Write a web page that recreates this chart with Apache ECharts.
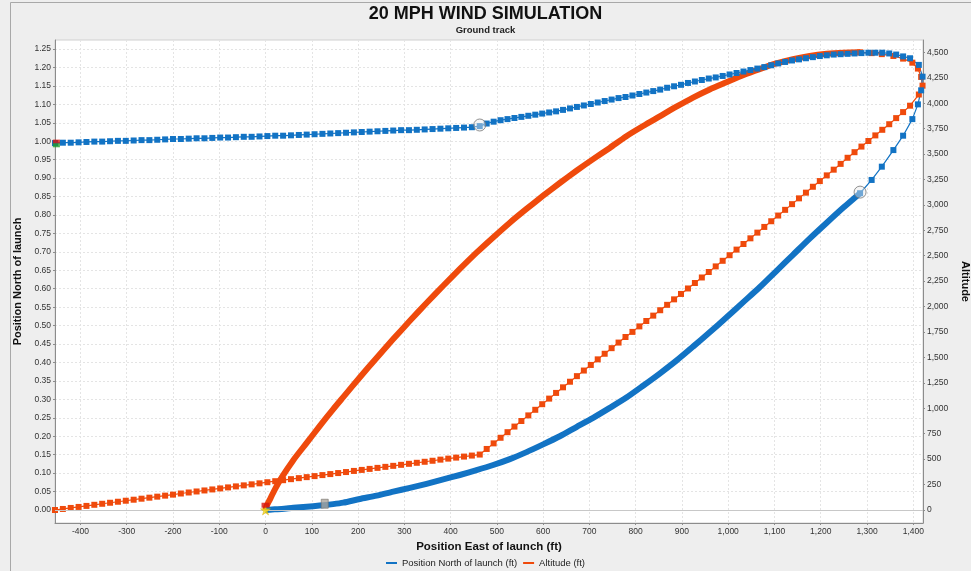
<!DOCTYPE html>
<html>
<head>
<meta charset="utf-8">
<script src="https://cdn.jsdelivr.net/npm/echarts@6/dist/echarts.min.js"></script>
<style>
  html, body { margin: 0; padding: 0; background: #eeeeee; }
  #chart { width: 971px; height: 571px; }
</style>
</head>
<body>
<div id="chart"></div>
<script>
// ascent (motor burn + coast up to apogee)
const ascentEast = [0, 2, 9, 20, 35, 60, 89, 117, 146, 168, 204, 240, 276, 312, 348, 384, 420, 456, 492, 528,
  564, 600, 636, 672, 708, 744, 780, 816, 852, 888, 924, 960, 996, 1032, 1068, 1104, 1140, 1176, 1213, 1249, 1285];
const ascentNorth = [0, 0, 0.001, 0.002, 0.003, 0.006, 0.009, 0.012, 0.016, 0.020, 0.030, 0.039, 0.050, 0.060, 0.071,
  0.083, 0.095, 0.108, 0.122, 0.138, 0.157, 0.178, 0.200, 0.225, 0.250, 0.277, 0.305, 0.337, 0.370, 0.405, 0.443,
  0.482, 0.522, 0.563, 0.604, 0.648, 0.692, 0.736, 0.779, 0.820, 0.859];
const ascentAlt = [0, 35, 100, 200, 320, 490, 660, 825, 990, 1110, 1305, 1495, 1680, 1860, 2035, 2205, 2370, 2530,
  2680, 2825, 2960, 3090, 3215, 3335, 3450, 3560, 3675, 3775, 3870, 3965, 4055, 4135, 4205, 4275, 4335, 4390, 4432,
  4464, 4485, 4496, 4500];

// apogee to main deployment
const drogueEast = [1285, 1310, 1332, 1357, 1378, 1398, 1410, 1417, 1420, 1412,
  1393, 1378, 1363, 1348, 1333, 1318, 1303, 1288, 1273, 1258, 1243, 1228, 1213, 1198, 1183, 1168, 1153, 1138,
  1123, 1108, 1093, 1078, 1063, 1048, 1033, 1018, 1003, 988, 973, 958, 943, 928, 913, 898, 883, 868, 853, 838,
  823, 808, 793, 778, 763, 748, 733, 718, 703, 688, 673, 658, 643, 628, 613, 598, 583, 568, 553, 538, 523, 508,
  493, 478, 463];
const drogueNorth = [0.859, 0.895, 0.931, 0.976, 1.015, 1.060, 1.100, 1.138, 1.175, 1.207,
  1.225, 1.230, 1.235, 1.238, 1.240, 1.240, 1.240, 1.239, 1.238, 1.237, 1.236, 1.235, 1.233, 1.231, 1.228, 1.225,
  1.222, 1.219, 1.215, 1.211, 1.206, 1.201, 1.197, 1.193, 1.189, 1.185, 1.181, 1.177, 1.173, 1.170, 1.166, 1.162,
  1.158, 1.153, 1.149, 1.145, 1.140, 1.136, 1.132, 1.128, 1.124, 1.120, 1.117, 1.113, 1.109, 1.105, 1.101, 1.097,
  1.093, 1.089, 1.085, 1.081, 1.078, 1.075, 1.072, 1.069, 1.066, 1.063, 1.060, 1.057, 1.053, 1.048, 1.041];
const drogueAlt = [4500, 4492, 4482, 4464, 4438, 4398, 4340, 4258, 4172, 4085,
  3975, 3912, 3853, 3793, 3738, 3683, 3628, 3573, 3518, 3463, 3403, 3346, 3290, 3234, 3178, 3120, 3064, 3007,
  2951, 2895, 2839, 2783, 2727, 2671, 2615, 2560, 2505, 2450, 2395, 2340, 2286, 2232, 2178, 2124, 2071, 2017,
  1964, 1911, 1858, 1805, 1751, 1701, 1646, 1591, 1536, 1481, 1426, 1371, 1316, 1261, 1206, 1151, 1095, 1040,
  985, 930, 875, 820, 765, 710, 655, 600, 545];

// under main chute to ground
const mainEast = [446, 429, 412, 395, 378, 361, 344, 327, 310, 293, 276, 259, 242, 225, 208, 191, 174, 157, 140,
  123, 106, 89, 72, 55, 38, 21, 4, -13, -30, -47, -64, -81, -98, -115, -132, -149, -166, -183, -200, -217, -234,
  -251, -268, -285, -302, -319, -336, -353, -370, -387, -404, -421, -438, -455];
const mainNorth = [1.038, 1.037, 1.036, 1.035, 1.034, 1.033, 1.032, 1.031, 1.030, 1.030, 1.029, 1.028, 1.027,
  1.026, 1.025, 1.024, 1.023, 1.022, 1.021, 1.020, 1.019, 1.018, 1.017, 1.016, 1.015, 1.015, 1.014, 1.013, 1.012,
  1.012, 1.011, 1.010, 1.010, 1.009, 1.008, 1.008, 1.007, 1.006, 1.006, 1.005, 1.004, 1.003, 1.003, 1.002, 1.001,
  1.001, 1.000, 0.999, 0.999, 0.998, 0.997, 0.996, 0.996, 0.995];
const mainAlt = [535, 525, 515, 505, 495, 484, 474, 464, 454, 444, 434, 424, 414, 404, 394, 384, 373, 363, 353,
  343, 333, 323, 313, 303, 293, 283, 273, 262, 252, 242, 232, 222, 212, 202, 192, 182, 172, 162, 151, 141, 131,
  121, 111, 101, 91, 81, 71, 61, 51, 40, 30, 20, 10, 0];

// flight events
const eventNames = ['launch', 'ignition', 'burnout', 'apogee', 'deployment', 'groundHit', 'end'];
const eventEast = [0, 0, 128, 1285, 463, -452, -452];
const eventNorth = [0, 0.013, 0.017, 0.862, 1.044, 0.999, 0.989];

// tick labels
const eastTicks = [-400, -300, -200, -100, 0, 100, 200, 300, 400, 500, 600, 700, 800, 900, 1000, 1100, 1200, 1300, 1400];
const northTicks = [0, 0.05, 0.1, 0.15, 0.2, 0.25, 0.3, 0.35, 0.4, 0.45, 0.5, 0.55, 0.6, 0.65, 0.7, 0.75, 0.8,
  0.85, 0.9, 0.95, 1, 1.05, 1.1, 1.15, 1.2, 1.25];
const altTicks = [0, 250, 500, 750, 1000, 1250, 1500, 1750, 2000, 2250, 2500, 2750, 3000, 3250, 3500, 3750, 4000,
  4250, 4500];

const BLUE = '#1273c4';
const ORANGE = '#ef4a0c';
const FONT = 'Liberation Sans';
const NORTH = 'Position North of launch (ft)';
const ALT = 'Altitude (ft)';

const zip = (xs, ys) => xs.map((x, i) => [x, ys[i]]);
const descentEast = drogueEast.concat(mainEast);

const eventStyle = {
  launch: { symbol: 'path://M50,0 L61,35 L98,35 L68,57 L79,91 L50,70 L21,91 L32,57 L2,35 L39,35 Z', symbolSize: 10,
    itemStyle: { color: '#f6d30a', borderColor: '#c9a400', borderWidth: 0.5 } },
  ignition: { symbol: 'rect', symbolSize: [8, 5], itemStyle: { color: '#d6140e' } },
  burnout: { symbol: 'rect', symbolSize: [7, 9], itemStyle: { color: '#a9a49c', borderColor: '#7a756e', borderWidth: 0.8 } },
  apogee: { symbol: 'circle', symbolSize: 12, itemStyle: { color: 'rgba(235,235,235,0.55)', borderColor: '#777', borderWidth: 1 } },
  deployment: { symbol: 'circle', symbolSize: 12, itemStyle: { color: 'rgba(235,235,235,0.55)', borderColor: '#777', borderWidth: 1 } },
  groundHit: { symbol: 'rect', symbolSize: [7, 4], itemStyle: { color: '#d6140e' } },
  end: { symbol: 'rect', symbolSize: [7, 4], itemStyle: { color: '#1f9a2a' } }
};

const tickLabel = { fontFamily: FONT, fontSize: 8.5, color: '#333' };
const axisName = { fontFamily: FONT, fontSize: 11, fontWeight: 'bold', color: '#111' };

let chart = echarts.init(document.getElementById('chart'), null, { renderer: 'canvas' });
chart.setOption({
  backgroundColor: '#eeeeee',
  animation: false,
  title: {
    text: '20 MPH WIND SIMULATION',
    subtext: 'Ground track',
    left: 'center',
    top: 1,
    padding: [4, 0, 4, 12],
    itemGap: 2,
    textStyle: { fontFamily: FONT, fontSize: 18, fontWeight: 'bold', color: '#111' },
    subtextStyle: { fontFamily: FONT, fontSize: 9.5, fontWeight: 'bold', color: '#222' }
  },
  legend: {
    data: [NORTH, ALT],
    bottom: 1,
    left: 'center',
    padding: [2, 0, 2, 18],
    icon: 'rect',
    itemWidth: 11,
    itemHeight: 2,
    itemGap: 6,
    textStyle: { fontFamily: FONT, fontSize: 9.5, color: '#222' }
  },
  graphic: [{
    type: 'rect', silent: true,
    shape: { x: 10.5, y: 2.5, width: 1000, height: 700 },
    style: { fill: 'none', stroke: '#a8a8a8', lineWidth: 1 }
  }],
  grid: {
    left: 55, right: 48, top: 40, bottom: 48,
    containLabel: false, outerBoundsMode: 'none',
    show: true, backgroundColor: '#ffffff', borderColor: '#d0d0d0', borderWidth: 1
  },
  xAxis: {
    type: 'value', min: -455, max: 1421,
    name: 'Position East of launch (ft)', nameLocation: 'middle', nameGap: 16,
    nameTextStyle: Object.assign({}, axisName, { fontSize: 11.5 }),
    axisLine: { show: true, onZero: false, lineStyle: { color: '#8c8c8c', width: 1 } },
    axisTick: { show: true, length: 2, customValues: eastTicks, lineStyle: { color: '#8c8c8c' } },
    axisLabel: Object.assign({ customValues: eastTicks, margin: 4, formatter: v => v.toLocaleString('en-US') }, tickLabel),
    splitLine: { show: true, lineStyle: { color: '#e4e4e4', type: [2, 2] } }
  },
  yAxis: [{
    type: 'value', min: -0.0352, max: 1.2745, position: 'left',
    name: 'Position North of launch', nameLocation: 'middle', nameGap: 25, nameRotate: 90,
    nameTextStyle: axisName,
    axisLine: { show: true, onZero: false, lineStyle: { color: '#8c8c8c', width: 1 } },
    axisTick: { show: true, length: 2, customValues: northTicks, lineStyle: { color: '#8c8c8c' } },
    axisLabel: Object.assign({ customValues: northTicks, margin: 4, formatter: v => v.toFixed(2) }, tickLabel),
    splitLine: { show: true, lineStyle: { color: '#e4e4e4', type: [2, 2] } }
  }, {
    type: 'value', min: -128, max: 4621, position: 'right',
    name: 'Altitude', nameLocation: 'middle', nameGap: 29, nameRotate: -90,
    nameTextStyle: axisName,
    axisLine: { show: true, onZero: false, lineStyle: { color: '#8c8c8c', width: 1 } },
    axisTick: { show: true, length: 2, customValues: altTicks, lineStyle: { color: '#8c8c8c' } },
    axisLabel: Object.assign({ customValues: altTicks, margin: 4, formatter: v => v.toLocaleString('en-US') }, tickLabel),
    splitLine: { show: false }
  }],
  series: [
    {
      name: ALT, type: 'line', yAxisIndex: 1, silent: true,
      data: zip(ascentEast, ascentAlt),
      showSymbol: false, smooth: 0.25,
      itemStyle: { color: ORANGE },
      lineStyle: { color: ORANGE, width: 6, join: 'round' },
      markLine: {
        silent: true, symbol: 'none', label: { show: false },
        lineStyle: { color: '#c8c8c8', type: 'solid', width: 1 },
        data: [{ yAxis: 0 }]
      }
    },
    {
      name: ALT, type: 'line', yAxisIndex: 1, silent: true,
      data: zip(descentEast, drogueAlt.concat(mainAlt)),
      symbol: 'rect', symbolSize: 6, showSymbol: true,
      itemStyle: { color: ORANGE },
      lineStyle: { color: ORANGE, width: 1.2 }
    },
    {
      name: NORTH, type: 'line', yAxisIndex: 0, silent: true,
      data: zip(ascentEast, ascentNorth),
      showSymbol: false, smooth: 0.25,
      itemStyle: { color: BLUE },
      lineStyle: { color: BLUE, width: 6, join: 'round' }
    },
    {
      name: NORTH, type: 'line', yAxisIndex: 0, silent: true,
      data: zip(descentEast, drogueNorth.concat(mainNorth)),
      symbol: 'rect', symbolSize: 6, showSymbol: true,
      itemStyle: { color: BLUE },
      lineStyle: { color: BLUE, width: 1.2 }
    },
    {
      name: 'events', type: 'scatter', yAxisIndex: 0, silent: true, z: 5,
      data: eventNames.map((n, i) => Object.assign({ value: [eventEast[i], eventNorth[i]] }, eventStyle[n]))
    }
  ]
});
</script>
</body>
</html>
